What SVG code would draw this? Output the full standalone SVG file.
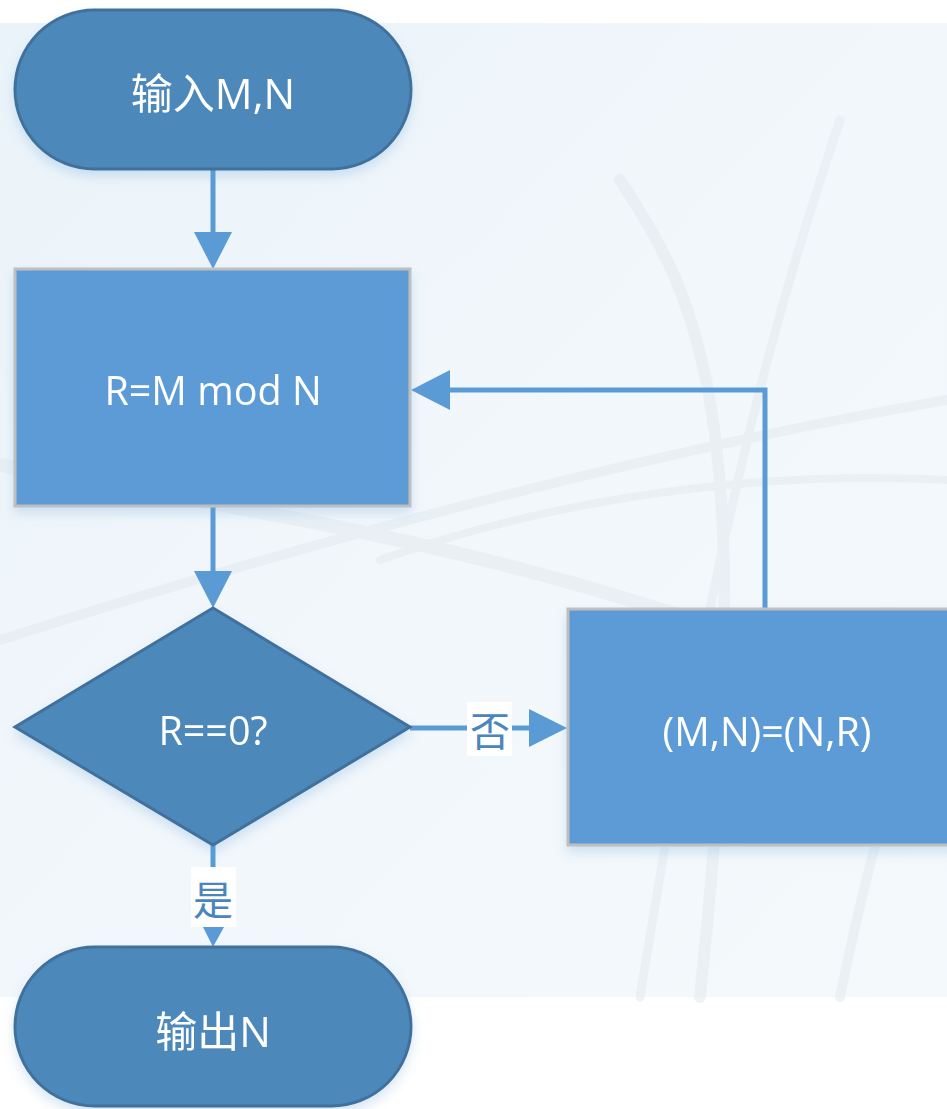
<svg xmlns="http://www.w3.org/2000/svg" width="947" height="1109" viewBox="0 0 947 1109">
<style>
.term{fill:#4e88bb;stroke:#41719c;stroke-width:3}
.proc{fill:#5b9bd5;stroke:#bfbfbf;stroke-width:3}
.lbl{fill:#ffffff;font-family:"Open Sans","Noto Sans CJK SC",sans-serif;font-size:39.5px;text-anchor:middle;dominant-baseline:central}
.big{font-size:42px}
.edge{fill:none;stroke:#5b9bd5;stroke-width:5}
.head{fill:#5b9bd5}
.elbl{fill:#4a86bd;font-family:"Noto Sans CJK SC",sans-serif;font-size:40px;text-anchor:middle;dominant-baseline:central}
.wire{fill:none;stroke:#e3ebf0;stroke-linecap:round}
</style>
<defs>
<linearGradient id="bg" x1="0" y1="0" x2="1" y2="1">
<stop offset="0" stop-color="#eaf3f9"/>
<stop offset="0.5" stop-color="#f2f7fb"/>
<stop offset="1" stop-color="#f4f9fc"/>
</linearGradient>
<filter id="sh" x="-10%" y="-10%" width="120%" height="130%">
<feGaussianBlur in="SourceAlpha" stdDeviation="6"/>
<feOffset dy="6" result="b"/>
<feFlood flood-color="#5b9bd5" flood-opacity="0.25"/>
<feComposite in2="b" operator="in"/>
<feMerge><feMergeNode/><feMergeNode in="SourceGraphic"/></feMerge>
</filter>
</defs>
<rect x="0" y="0" width="947" height="1109" fill="#ffffff"/>
<rect x="0" y="23" width="947" height="974" fill="url(#bg)"/>
<g id="background-wires" opacity="0.55">
<path class="wire" stroke-width="14" d="M0,465 C300,520 600,560 947,720"/>
<path class="wire" stroke-width="10" d="M0,640 C250,560 600,460 947,400"/>
<path class="wire" stroke-width="12" d="M620,180 C700,300 760,420 700,997"/>
<path class="wire" stroke-width="9" d="M840,120 C780,300 720,500 640,997"/>
<path class="wire" stroke-width="8" d="M380,560 C550,500 750,470 947,480"/>
<path class="wire" stroke-width="10" d="M840,997 C880,800 920,700 947,650"/>
</g>
<g id="connectors">
<line class="edge" x1="213" y1="169" x2="213" y2="234"/>
<polygon class="head" points="194,232 232,232 213,269"/>
<line class="edge" x1="213" y1="506" x2="213" y2="573"/>
<polygon class="head" points="194,571 232,571 213,608"/>
<line class="edge" x1="410" y1="728" x2="531" y2="728"/>
<polygon class="head" points="529,709 529,747 567,728"/>
<rect x="467" y="702" width="45" height="54" fill="#ffffff"/>
<text class="elbl" x="490" y="729">否</text>
<polyline class="edge" points="765,609 765,390 448,390"/>
<polygon class="head" points="450,370 450,410 411,390"/>
<line class="edge" x1="213" y1="845" x2="213" y2="930"/>
<rect x="191" y="867" width="45" height="60" fill="#ffffff"/>
<text class="elbl" x="213" y="898">是</text>
<polygon class="head" points="203,927 224,927 213,947"/>
</g>
<g id="node-input" filter="url(#sh)">
<rect class="term" x="15" y="10" width="396" height="159" rx="79.5" ry="79.5"/>
<text class="lbl big" x="213" y="92">输入M,N</text>
</g>
<g id="node-mod" filter="url(#sh)">
<rect class="proc" x="15" y="269" width="395" height="237"/>
<text class="lbl" x="213" y="390">R=M mod N</text>
</g>
<g id="node-check" filter="url(#sh)">
<polygon class="term" points="213,608 410,727 213,845 15,727"/>
<text class="lbl" x="213" y="730">R==0?</text>
</g>
<g id="node-swap" filter="url(#sh)">
<rect class="proc" x="568" y="609" width="400" height="236"/>
<text class="lbl" x="767" y="731">(M,N)=(N,R)</text>
</g>
<g id="node-output" filter="url(#sh)">
<rect class="term" x="15" y="947" width="396" height="159" rx="79.5" ry="79.5"/>
<text class="lbl big" x="213" y="1030">输出N</text>
</g>
</svg>
